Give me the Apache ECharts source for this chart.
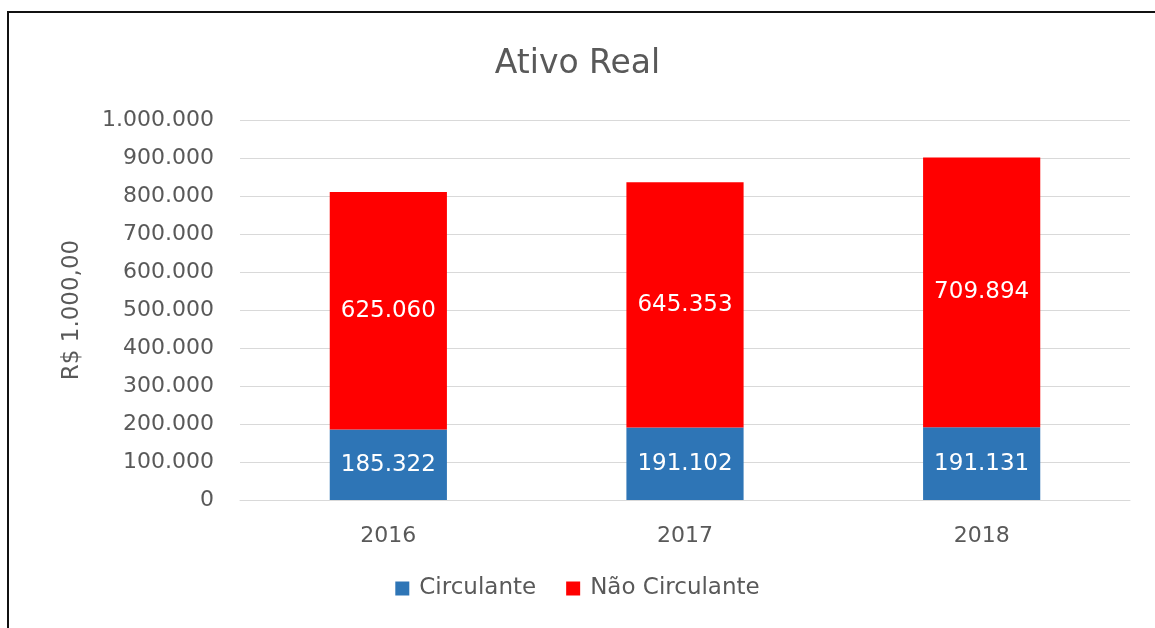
<!DOCTYPE html>
<html>
<head>
<meta charset="utf-8">
<script src="https://cdn.jsdelivr.net/npm/echarts@6/dist/echarts.min.js"></script>
<style>
  html, body { margin: 0; padding: 0; background: #fff; }
  #chart { width: 1155px; height: 628px; }
</style>
</head>
<body>
<div id="chart"></div>
<script>
// dados do gráfico
const years = ['2016', '2017', '2018']
const circulante = [185322, 191102, 191131]
const naoCirculante = [625060, 645353, 709894]

// formato brasileiro: 1.000.000
const fmt = v => String(Math.round(v)).replace(/\B(?=(\d{3})+(?!\d))/g, '.')

const font = 'DejaVu Sans'
const chart = echarts.init(document.getElementById('chart'))

const option = {
  backgroundColor: '#fff',
  animation: false,
  textStyle: { fontFamily: font },
  title: {
    text: 'Ativo Real',
    left: 'center',
    top: 43,
    textStyle: { fontFamily: font, fontSize: 33, fontWeight: 'normal', color: '#595959' }
  },
  graphic: [{
    type: 'rect',
    shape: { x: 8, y: 12, width: 1300, height: 800 },
    style: { fill: 'none', stroke: '#111', lineWidth: 2 },
    silent: true
  }],
  legend: {
    bottom: 23,
    left: 'center',
    itemWidth: 14,
    itemHeight: 14,
    itemGap: 30,
    icon: 'rect',
    textStyle: { fontFamily: font, fontSize: 23, color: '#595959', padding: [0, 0, 0, 5] },
    data: ['Circulante', 'Não Circulante']
  },
  grid: { left: 240, right: 25, top: 120, bottom: 128 },
  xAxis: {
    type: 'category',
    data: years,
    axisLine: { lineStyle: { color: '#d9d9d9', width: 1 } },
    axisTick: { show: false },
    axisLabel: { fontFamily: font, fontSize: 22, color: '#595959', margin: 25 }
  },
  yAxis: {
    type: 'value',
    min: 0,
    max: 1000000,
    interval: 100000,
    name: 'R$ 1.000,00',
    nameLocation: 'middle',
    nameRotate: 90,
    nameGap: 156,
    nameTextStyle: { fontFamily: font, fontSize: 23, color: '#595959' },
    axisLine: { show: false },
    axisTick: { show: false },
    splitLine: { lineStyle: { color: '#d9d9d9', width: 1 } },
    axisLabel: { fontFamily: font, fontSize: 22, color: '#595959', margin: 26, formatter: fmt }
  },
  series: [
    {
      name: 'Circulante',
      type: 'bar',
      stack: 'ativo',
      barWidth: '39.5%',
      data: circulante,
      itemStyle: { color: '#2E75B6' },
      label: {
        show: true,
        position: 'inside',
        color: '#fff',
        fontFamily: font,
        fontSize: 23,
        formatter: p => fmt(p.value)
      }
    },
    {
      name: 'Não Circulante',
      type: 'bar',
      stack: 'ativo',
      barWidth: '39.5%',
      data: naoCirculante,
      itemStyle: { color: '#FF0000' },
      label: {
        show: true,
        position: 'inside',
        color: '#fff',
        fontFamily: font,
        fontSize: 23,
        formatter: p => fmt(p.value)
      }
    }
  ]
}

chart.setOption(option)
</script>
</body>
</html>
